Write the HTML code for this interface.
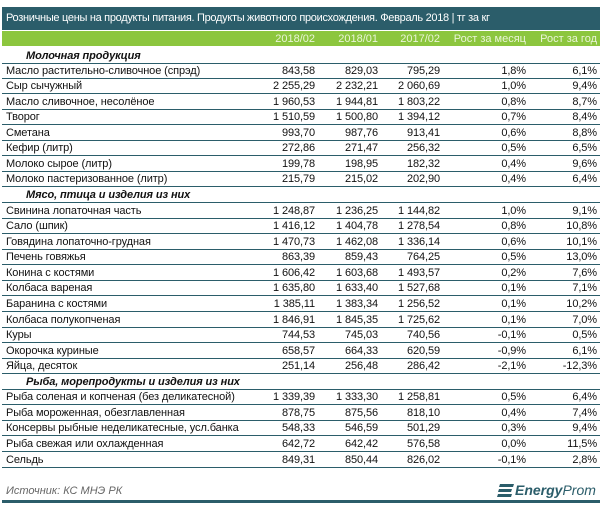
<!DOCTYPE html>
<html><head><meta charset="utf-8"><style>
body{margin:0;width:604px;height:508px;background:#fff;font-family:"Liberation Sans","DejaVu Sans",sans-serif;position:relative;overflow:hidden;color:#111}
.title{position:absolute;left:2px;top:7px;width:598px;height:23px;background:#2b5d6a;color:#fff;font-size:11px;letter-spacing:-0.3px;line-height:23px;padding-left:4px;box-sizing:border-box;white-space:nowrap}
.hdr{position:absolute;left:2px;top:31px;width:598px;height:15px;background:#8cc63e;color:#eaf5d8;font-size:11px}
.r{position:absolute;left:2px;width:598px;border-bottom:1px solid #2b5d6a;box-sizing:border-box;font-size:11px;letter-spacing:-0.1px;white-space:nowrap}
.c{position:absolute;bottom:1px;text-align:right}
.l{position:absolute;left:4px;bottom:1px}
.s{font-weight:bold;font-style:italic;left:24px}
.src{position:absolute;left:6px;top:485px;font-size:11px;font-style:italic;color:#666}
.logo{position:absolute;left:497px;top:482px;font-size:14px;font-style:italic;color:#2b5d6a}
.bar{position:absolute;left:2px;top:500px;width:598px;height:3px;background:#2b5d6a}
</style></head><body>
<div class="title">Розничные цены на продукты питания. Продукты животного происхождения. Февраль 2018 | тг за кг</div>
<div class="hdr">
<span class="c" style="right:285px">2018/02</span>
<span class="c" style="right:222px">2018/01</span>
<span class="c" style="right:160px">2017/02</span>
<span class="c" style="right:74px">Рост за месяц</span>
<span class="c" style="right:3px">Рост за год</span>
</div>
<div id="t"></div>
<div class="src">Источник: КС МНЭ РК</div>
<div class="logo"><svg width="18" height="14" style="vertical-align:-2px"><path d="M3 1h14l-1 3H2zM2 6h13l-1 3H1zM1 11h14l-1 3H0z" fill="#2b5d6a"/></svg><b>Energy</b>Prom</div>
<div class="bar"></div>
<script>
var rows=[
["S","Молочная продукция"],
["Масло растительно-сливочное (спрэд)","843,58","829,03","795,29","1,8%","6,1%"],
["Сыр сычужный","2 255,29","2 232,21","2 060,69","1,0%","9,4%"],
["Масло сливочное, несолёное","1 960,53","1 944,81","1 803,22","0,8%","8,7%"],
["Творог","1 510,59","1 500,80","1 394,12","0,7%","8,4%"],
["Сметана","993,70","987,76","913,41","0,6%","8,8%"],
["Кефир (литр)","272,86","271,47","256,32","0,5%","6,5%"],
["Молоко сырое (литр)","199,78","198,95","182,32","0,4%","9,6%"],
["Молоко пастеризованное (литр)","215,79","215,02","202,90","0,4%","6,4%"],
["S","Мясо, птица и изделия из них"],
["Свинина лопаточная часть","1 248,87","1 236,25","1 144,82","1,0%","9,1%"],
["Сало (шпик)","1 416,12","1 404,78","1 278,54","0,8%","10,8%"],
["Говядина лопаточно-грудная","1 470,73","1 462,08","1 336,14","0,6%","10,1%"],
["Печень говяжья","863,39","859,43","764,25","0,5%","13,0%"],
["Конина с костями","1 606,42","1 603,68","1 493,57","0,2%","7,6%"],
["Колбаса вареная","1 635,80","1 633,40","1 527,68","0,1%","7,1%"],
["Баранина с костями","1 385,11","1 383,34","1 256,52","0,1%","10,2%"],
["Колбаса полукопченая","1 846,91","1 845,35","1 725,62","0,1%","7,0%"],
["Куры","744,53","745,03","740,56","-0,1%","0,5%"],
["Окорочка куриные","658,57","664,33","620,59","-0,9%","6,1%"],
["Яйца, десяток","251,14","256,48","286,42","-2,1%","-12,3%"],
["S","Рыба, морепродукты и изделия из них"],
["Рыба соленая и копченая (без деликатесной)","1 339,39","1 333,30","1 258,81","0,5%","6,4%"],
["Рыба мороженная, обезглавленная","878,75","875,56","818,10","0,4%","7,4%"],
["Консервы рыбные неделикатесные, усл.банка","548,33","546,59","501,29","0,3%","9,4%"],
["Рыба свежая или охлажденная","642,72","642,42","576,58","0,0%","11,5%"],
["Сельдь","849,31","850,44","826,02","-0,1%","2,8%"]];
var R=[285,222,160,74,3],h="";
rows.forEach(function(r,i){var top=i==0?46:(63+(i-1)*15.56),ht=i==0?18:15.56;
h+='<div class="r" style="top:'+top.toFixed(2)+'px;height:'+ht+'px">';
if(r[0]=="S")h+='<span class="l s">'+r[1]+'</span>';
else{h+='<span class="l">'+r[0]+'</span>';for(var j=0;j<5;j++)h+='<span class="c" style="right:'+R[j]+'px">'+r[j+1]+'</span>';}
h+='</div>';});
document.getElementById('t').innerHTML=h;
</script>
</body></html>
